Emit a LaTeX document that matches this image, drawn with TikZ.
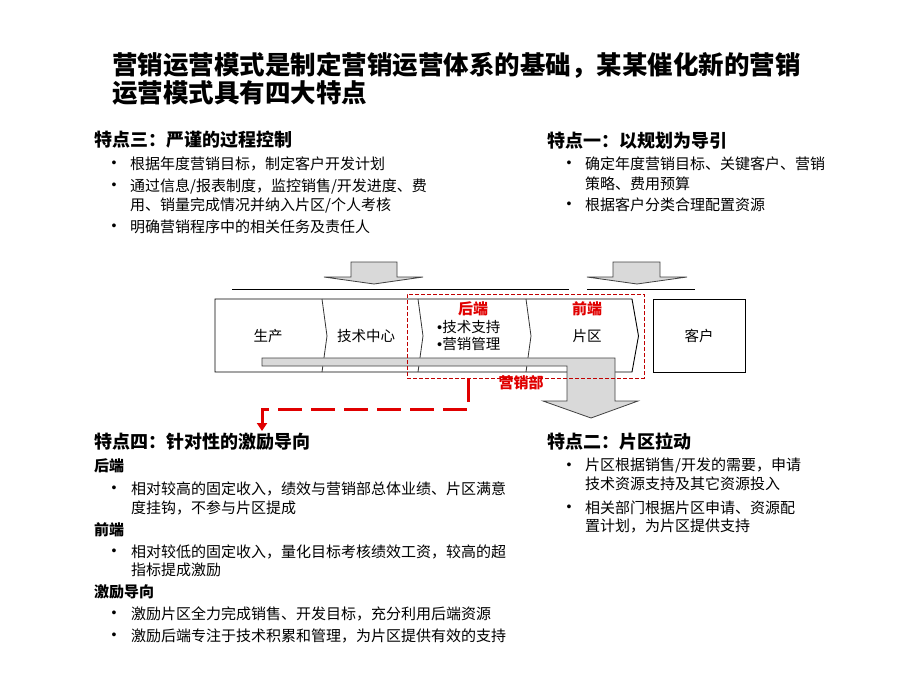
\documentclass[tikz,border=0pt]{standalone}
\usepackage{fontspec}
\setmainfont{Noto Sans CJK SC}
\newfontfamily\bulfont{Liberation Sans}
\usetikzlibrary{arrows.meta}
\definecolor{agray}{HTML}{D9D9D9}
\definecolor{aline}{HTML}{404040}
\definecolor{mred}{HTML}{E00000}
\definecolor{dred}{HTML}{C00000}
\begin{document}
\begin{tikzpicture}[x=1pt,y=-1pt,
  titletxt/.style={anchor=west,inner sep=0,font=\fontsize{25.5}{28}\selectfont\bfseries},
  headtxt/.style={anchor=west,inner sep=0,font=\fontsize{18}{20}\selectfont\bfseries},
  subtxt/.style={anchor=west,inner sep=0,font=\fontsize{15}{18}\selectfont\bfseries},
  bodytxt/.style={anchor=west,inner sep=0,font=\fontsize{15}{18}\selectfont},
  bul/.style={anchor=center,inner sep=0,font=\bulfont\fontsize{14}{15}\selectfont},
  diatxt/.style={inner sep=0,font=\fontsize{14.5}{17}\selectfont},
  redlbl/.style={inner sep=0,font=\fontsize{15}{17}\selectfont\bfseries,text=mred},
  garrow/.style={fill=agray,draw=aline,line width=0.8pt,line join=miter},
  frame/.style={draw=black,line width=0.9pt},
  divider/.style={draw=black!80,line width=0.8pt},
]
\useasboundingbox (0,0) rectangle (920,690);

% Title
\node[titletxt] (ttl1) at (112,65) {营销运营模式是制定营销运营体系的基础，某某催化新的营销};
\node[titletxt] (ttl2) at (112,93) {运营模式具有四大特点};

% Feature 3
\node[headtxt] (h3) at (94,140) {特点三：严谨的过程控制};
\node[bul] (b31) at (114,164) {•};
\node[bodytxt] (t31) at (130,164) {根据年度营销目标，制定客户开发计划};
\node[bul] (b32) at (114,186) {•};
\node[bodytxt] (t32) at (130,186) {通过信息/报表制度，监控销售/开发进度、费};
\node[bodytxt] (t32b) at (130,205) {用、销量完成情况并纳入片区/个人考核};
\node[bul] (b33) at (114,227) {•};
\node[bodytxt] (t33) at (130,227) {明确营销程序中的相关任务及责任人};

% Feature 1
\node[headtxt] (h1) at (547,141) {特点一：以规划为导引};
\node[bul] (b11) at (569,164) {•};
\node[bodytxt] (t11) at (585,164) {确定年度营销目标、关键客户、营销};
\node[bodytxt] (t11b) at (585,184) {策略、费用预算};
\node[bul] (b12) at (569,205) {•};
\node[bodytxt] (t12) at (585,205) {根据客户分类合理配置资源};

% Feature 4
\node[headtxt] (h4) at (94,442) {特点四：针对性的激励导向};
\node[subtxt] (s41) at (94,466) {后端};
\node[bul] (b41) at (114,489) {•};
\node[bodytxt] (t41) at (131,489) {相对较高的固定收入，绩效与营销部总体业绩、片区满意};
\node[bodytxt] (t41b) at (131,508) {度挂钩，不参与片区提成};
\node[subtxt] (s42) at (94,530) {前端};
\node[bul] (b42) at (114,552) {•};
\node[bodytxt] (t42) at (131,552) {相对较低的固定收入，量化目标考核绩效工资，较高的超};
\node[bodytxt] (t42b) at (131,570) {指标提成激励};
\node[subtxt] (s43) at (94,592) {激励导向};
\node[bul] (b43) at (114,614) {•};
\node[bodytxt] (t43) at (131,614) {激励片区全力完成销售、开发目标，充分利用后端资源};
\node[bul] (b44) at (114,636) {•};
\node[bodytxt] (t44) at (131,636) {激励后端专注于技术积累和管理，为片区提供有效的支持};

% Feature 2
\node[headtxt] (h2) at (547,442) {特点二：片区拉动};
\node[bul] (b21) at (569,466) {•};
\node[bodytxt] (t21) at (585,466) {片区根据销售/开发的需要，申请};
\node[bodytxt] (t21b) at (585,484) {技术资源支持及其它资源投入};
\node[bul] (b22) at (569,508) {•};
\node[bodytxt] (t22) at (585,508) {相关部门根据片区申请、资源配};
\node[bodytxt] (t22b) at (585,526) {置计划，为片区提供支持};

% Top lines and arrows
\draw[black,line width=0.9pt] (232,289) -- (569,289);
\draw[black,line width=0.9pt] (587,289) -- (695,289);
\draw[garrow] (351,262) -- (397,262) -- (397,277) -- (423,277) -- (374,284) -- (324,277) -- (351,277) -- cycle;
\draw[garrow] (613,262) -- (660,262) -- (660,277) -- (687,277) -- (637,284) -- (587,277) -- (613,277) -- cycle;

% Value chain
\draw[frame] (215,299) -- (632,299) -- (638.5,336) -- (632,372) -- (215,372) -- cycle;
\draw[divider] (322,299) -- (327,336) -- (322,372);
\draw[divider] (418,299) -- (423,336) -- (418,372);
\draw[divider] (526,299) -- (531,336) -- (526,372);
\node[frame,minimum width=92pt,minimum height=73pt,inner sep=0] (kh) at (699,335.5) {};
\node[diatxt] (khl) at (kh.center) {客户};

\node[diatxt] (sc) at (268,336) {生产};
\node[diatxt] (jszx) at (366,336) {技术中心};
\node[redlbl] (hd) at (473,309) {后端};
\node[diatxt,anchor=west] (jszc) at (437,327) {{\bulfont •}技术支持};
\node[diatxt,anchor=west] (yxgl) at (437,344) {{\bulfont •}营销管理};
\node[redlbl] (qd) at (587,309) {前端};
\node[diatxt] (pq) at (587,336) {片区};

% Marketing dept bent arrow
\draw[garrow] (262,358) -- (615,358) -- (615,401) -- (638,401) -- (591,418) -- (543,401) -- (567,401) -- (567,366) -- (262,366) -- cycle;

% Red dashed box
\node[draw=dred,dash pattern=on 4pt off 2pt,line width=0.8pt,minimum width=237pt,minimum height=84pt,inner sep=0] (mk) at (525.5,336) {};
\node[redlbl] (yxb) at (521,383) {营销部};

% Connector to feature 4
\coordinate (t4end) at (262,431);
\draw[mred,line width=3pt,dash pattern=on 24pt off 9pt,-{Triangle[width=10pt,length=8pt]}]
  ([xshift=62pt]mk.south west) -- ++(0,31) -| (t4end);
\end{tikzpicture}
\end{document}
